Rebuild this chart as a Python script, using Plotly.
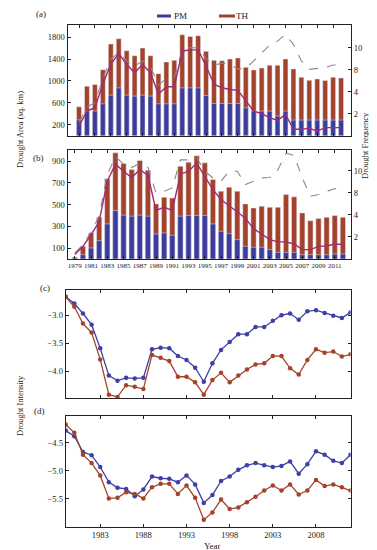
import plotly.graph_objects as go

years = list(range(1979, 2013))

# Panel (a): drought area (sq. km) and frequency
area_a_th = [527, 903, 933, 1205, 1673, 1770, 1551, 1460, 1600, 1460, 1133, 1345, 1376, 1842, 1812,
             1824, 1540, 1376, 1370, 1400, 1418, 1249, 1200, 1236, 1285, 1285, 1400, 1218, 1067, 1012,
             1036, 1006, 1067, 1055]
area_a_pm = [290, 450, 450, 582, 740, 873, 740, 722, 740, 722, 582, 582, 582, 873, 873,
             873, 733, 587, 587, 587, 587, 509, 449, 449, 449, 358, 449, 285, 285, 285,
             285, 285, 285, 285]
freq_a_solid = [0.88, 2.24, 2.55, 4.67, 6.5, 7.45, 6.5, 5.7, 6.5, 5.7, 3.76, 4.45, 4.45, 7.7, 7.8,
                7.8, 6.33, 4.67, 4.36, 4.2, 4.12, 3.15, 2.24, 2.0, 1.64, 1.39, 1.94, 0.58, 0.58, 0.67,
                0.42, 0.73, 0.73, 0.73]
freq_a_dash = [1.2, 2.6, 3.0, 5.2, 6.9, 7.6, 6.8, 6.3, 6.8, 6.3, 4.6, 5.2, 5.3, 7.8, 8.0,
               8.0, 7.0, 6.4, 6.6, 6.5, 6.05, 6.12, 6.8, 7.55, 8.24, 8.6, 9.2, 8.3, 6.8, 6.03,
               6.1, 6.2, 6.42, 6.42]

# Panel (b)
area_b_th = [18, 117, 240, 384, 738, 977, 879, 823, 906, 818, 507, 569, 562, 854, 891,
             950, 885, 731, 624, 661, 624, 507, 470, 486, 476, 476, 593, 572, 424, 353,
             372, 384, 400, 384]
area_b_pm = [8, 40, 101, 169, 323, 445, 403, 394, 403, 394, 230, 240, 218, 394, 400,
             400, 400, 323, 255, 235, 178, 117, 108, 108, 86, 61, 61, 61, 40, 40,
             40, 40, 46, 46]
freq_b_solid = [0.4, 1.15, 2.2, 3.4, 7.06, 8.6, 7.97, 7.4, 8.1, 7.6, 4.4, 4.7, 4.4, 7.7, 7.97,
                8.7, 7.5, 6.3, 5.4, 4.8, 4.27, 3.7, 2.76, 2.27, 1.76, 1.55, 1.55, 1.36, 0.85, 0.85,
                1.15, 1.18, 1.36, 1.33]
freq_b_dash = [0.55, 1.3, 2.45, 3.9, 7.67, 9.3, 8.6, 8.3, 8.7, 8.3, 6.0, 6.15, 6.45, 9.0, 9.0,
               9.2, 7.97, 7.36, 7.06, 7.97, 7.97, 6.76, 7.06, 7.36, 7.4, 8.1, 9.6, 9.4, 7.36, 5.7,
               5.85, 6.15, 6.4, 6.1]

# Panel (c): drought intensity
int_c_pm = [-2.67, -2.79, -2.97, -3.17, -3.59, -4.08, -4.17, -4.12, -4.13, -4.12, -3.61, -3.58, -3.59,
            -3.73, -3.80, -3.94, -4.19, -3.86, -3.62, -3.48, -3.34, -3.34, -3.21, -3.21, -3.10, -3.00,
            -2.97, -3.08, -2.93, -2.91, -2.96, -3.01, -3.05, -2.95]
int_c_th = [-2.67, -2.85, -3.15, -3.31, -3.79, -4.42, -4.46, -4.25, -4.28, -4.32, -3.71, -3.76, -3.82,
            -4.10, -4.10, -4.20, -4.42, -4.16, -4.03, -4.20, -4.08, -3.97, -3.88, -3.86, -3.73, -3.73,
            -3.95, -4.06, -3.80, -3.61, -3.67, -3.65, -3.74, -3.70]

# Panel (d)
int_d_pm = [-4.28, -4.38, -4.66, -4.72, -4.93, -5.20, -5.30, -5.32, -5.45, -5.33, -5.10, -5.13, -5.14,
            -5.20, -5.08, -5.24, -5.57, -5.43, -5.18, -5.10, -4.98, -4.90, -4.86, -4.90, -4.93, -4.91,
            -4.83, -5.05, -4.88, -4.65, -4.71, -4.82, -4.86, -4.71]
int_d_th = [-4.17, -4.32, -4.71, -4.86, -5.08, -5.49, -5.48, -5.38, -5.41, -5.49, -5.29, -5.23, -5.23,
            -5.41, -5.26, -5.48, -5.87, -5.74, -5.51, -5.68, -5.65, -5.56, -5.46, -5.35, -5.26, -5.35,
            -5.24, -5.42, -5.35, -5.16, -5.27, -5.24, -5.29, -5.35]

bar_years_ticks = list(range(1979, 2012, 2))
int_years_ticks = [1983, 1988, 1993, 1998, 2003, 2008]
freq_tickvals = [2, 4, 6, 8]
freq_ticktext = ["2", "4", "8", "10"]

BLUE = "#3c3c9c"
BROWN = "#a4422c"
LINE = "#a3287a"
DASH = "#8a8a8a"
CBLUE = "#3f3fa6"
CRED = "#a5432a"
FONT = "Liberation Serif"

fig = go.Figure()

# (a)
fig.add_trace(go.Bar(x=years, y=area_a_th, marker_color=BROWN, width=0.62, xaxis="x", yaxis="y", name="TH"))
fig.add_trace(go.Bar(x=years, y=area_a_pm, marker_color=BLUE, width=0.62, xaxis="x", yaxis="y", name="PM"))
fig.add_trace(go.Scatter(x=years, y=freq_a_dash, mode="lines", line=dict(color=DASH, width=1.1, dash="dash"),
                         xaxis="x", yaxis="y2"))
fig.add_trace(go.Scatter(x=years, y=freq_a_solid, mode="lines", line=dict(color=LINE, width=1.4),
                         xaxis="x", yaxis="y2"))
# (b)
fig.add_trace(go.Bar(x=years, y=area_b_th, marker_color=BROWN, width=0.65, xaxis="x2", yaxis="y3"))
fig.add_trace(go.Bar(x=years, y=area_b_pm, marker_color=BLUE, width=0.65, xaxis="x2", yaxis="y3"))
fig.add_trace(go.Scatter(x=years, y=freq_b_dash, mode="lines", line=dict(color=DASH, width=1.1, dash="dash"),
                         xaxis="x2", yaxis="y4"))
fig.add_trace(go.Scatter(x=years, y=freq_b_solid, mode="lines", line=dict(color=LINE, width=1.4),
                         xaxis="x2", yaxis="y4"))
# (c)
fig.add_trace(go.Scatter(x=years, y=int_c_pm, mode="lines+markers", line=dict(color=CBLUE, width=1.3),
                         marker=dict(size=4.5, color=CBLUE), xaxis="x3", yaxis="y5"))
fig.add_trace(go.Scatter(x=years, y=int_c_th, mode="lines+markers", line=dict(color=CRED, width=1.3),
                         marker=dict(size=4.5, color=CRED), xaxis="x3", yaxis="y5"))
# (d)
fig.add_trace(go.Scatter(x=years, y=int_d_pm, mode="lines+markers", line=dict(color=CBLUE, width=1.3),
                         marker=dict(size=4.5, color=CBLUE), xaxis="x4", yaxis="y6"))
fig.add_trace(go.Scatter(x=years, y=int_d_th, mode="lines+markers", line=dict(color=CRED, width=1.3),
                         marker=dict(size=4.5, color=CRED), xaxis="x4", yaxis="y6"))

W, H = 377, 550
def px(v):
    return v / W
def py(v):
    return 1 - v / H

ax_common = dict(showline=True, linecolor="#222", linewidth=1, ticks="inside", ticklen=3,
                 tickcolor="#222", showgrid=False, zeroline=False,
                 tickfont=dict(family=FONT, size=8.5, color="#222"))

dom_ab = [px(59.5), px(343)]
dom_cd = [px(57.7), px(342.5)]

fig.update_layout(
    width=W, height=H, margin=dict(l=0, r=0, t=0, b=0),
    paper_bgcolor="white", plot_bgcolor="white", showlegend=False, barmode="overlay",
    font=dict(family=FONT, color="#222"),
    xaxis=dict(ax_common, domain=dom_ab, anchor="y", range=[1977.55, 2013.25],
               tickvals=bar_years_ticks, showticklabels=False, mirror="ticks"),
    yaxis=dict(ax_common, domain=[py(127.7), py(16.7)], anchor="x", range=[0, 2026],
               tickvals=[200, 600, 1000, 1400, 1800]),
    yaxis2=dict(ax_common, overlaying="y", side="right", anchor="x", range=[0, 10.09],
                tickvals=freq_tickvals, ticktext=freq_ticktext),
    xaxis2=dict(ax_common, domain=dom_ab, anchor="y3", range=[1978.1, 2013.0],
                tickvals=bar_years_ticks, mirror="ticks", tickangle=0,
                tickfont=dict(family=FONT, size=7, color="#222")),
    yaxis3=dict(ax_common, domain=[py(251), py(141.7)], anchor="x2", range=[0, 1006],
                tickvals=[100, 300, 500, 700, 900]),
    yaxis4=dict(ax_common, overlaying="y3", side="right", anchor="x2", range=[0, 9.92],
                tickvals=freq_tickvals, ticktext=freq_ticktext),
    xaxis3=dict(ax_common, domain=dom_cd, anchor="y5", range=[1979, 2012],
                tickvals=int_years_ticks, showticklabels=False, mirror="ticks"),
    yaxis5=dict(ax_common, domain=[py(390), py(282)], anchor="x3", range=[-4.48, -2.55],
                tickvals=[-3.0, -3.5, -4.0], ticktext=["\u22123.0", "\u22123.5", "\u22124.0"], mirror="ticks"),
    xaxis4=dict(ax_common, domain=dom_cd, anchor="y6", range=[1979, 2012],
                tickvals=int_years_ticks, mirror="ticks"),
    yaxis6=dict(ax_common, domain=[py(519), py(408)], anchor="x4", range=[-6.0, -4.02],
                tickvals=[-4.5, -5.0, -5.5], ticktext=["\u22124.5", "\u22125.0", "\u22125.5"], mirror="ticks"),
)

def ann(text, x, y, size=9, angle=0, xanchor="center"):
    fig.add_annotation(text=text, x=px(x), y=py(y), xref="paper", yref="paper", showarrow=False,
                       textangle=angle, font=dict(family=FONT, size=size, color="#222"),
                       xanchor=xanchor, yanchor="middle", borderpad=0)

ann("(a)", 33, 6)
ann("(b)", 30, 150)
ann("(c)", 37, 280)
ann("(d)", 31, 403)
ann("Drought Area (sq. km)", 12, 122, size=8.5, angle=-90)
ann("Drought Frequency", 357, 138, size=8.5, angle=-90)
ann("Drought Intensity", 12, 398, size=8.5, angle=-90)
ann("Year", 204, 538, size=9)

# legend
fig.add_shape(type="rect", xref="paper", yref="paper", x0=px(149), x1=px(163), y0=py(9.5), y1=py(6.5),
              fillcolor=BLUE, line=dict(width=0))
ann("PM", 172, 8, size=9)
fig.add_shape(type="rect", xref="paper", yref="paper", x0=px(211), x1=px(227), y0=py(9.5), y1=py(6.5),
              fillcolor=BROWN, line=dict(width=0))
ann("TH", 234, 8, size=9)

fig.write_html("out.html")
